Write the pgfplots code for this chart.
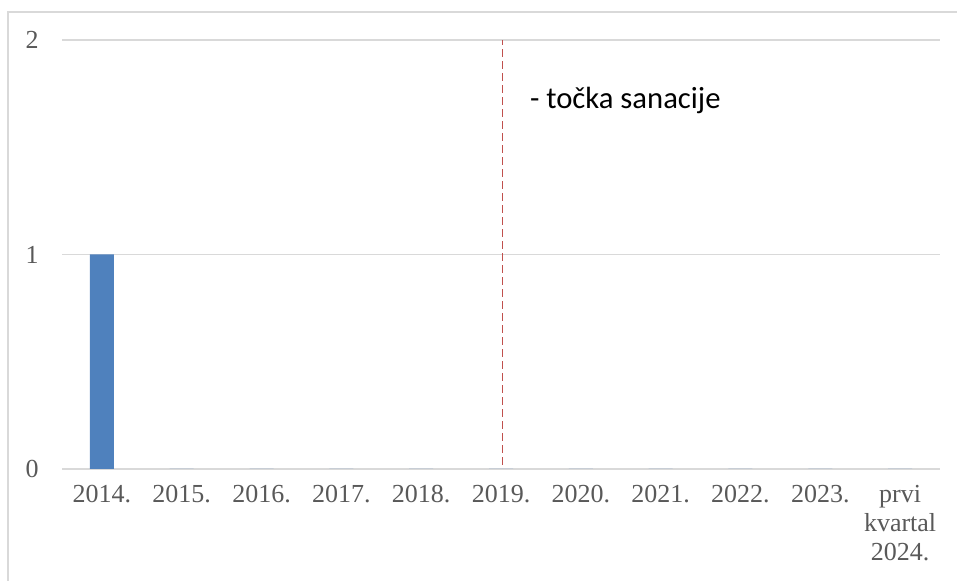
\documentclass[border=0pt]{standalone}
\usepackage{pgfplots}
\pgfplotsset{compat=1.18}
\usepackage{fontspec}
\setmainfont{Liberation Serif}
\newfontfamily\calibri{Carlito}
\definecolor{barblue}{HTML}{4F81BD}
\definecolor{dashred}{HTML}{C0504D}
\definecolor{gridgray}{HTML}{D9D9D9}
\definecolor{ticktext}{HTML}{595959}
\begin{document}
\begin{tikzpicture}
% 1px = 0.75pt
\path[use as bounding box] (0,0) rectangle (717.75pt,435.75pt);
\draw[gridgray, line width=1.2pt] (6pt,0) -- (6pt,426.75pt) -- (717.75pt,426.75pt);
\begin{axis}[
    at={(46.5pt,84pt)}, anchor=south west,
    scale only axis,
    width=658.5pt, height=321.75pt,
    xmin=-0.5, xmax=10.5,
    ymin=0, ymax=2,
    xtick=data,
    xticklabels={2014.,2015.,2016.,2017.,2018.,2019.,2020.,2021.,2022.,2023.,{prvi\\kvartal\\2024.}},
    ytick={0,1,2},
    axis line style={draw=none},
    major tick length=0pt,
    ymajorgrids,
    grid style={gridgray, line width=1.3pt},
    ticklabel style={font=\fontsize{19.5pt}{21.75pt}\selectfont, text=ticktext},
    xticklabel style={align=center, yshift=-9pt},
    yticklabel style={xshift=-14pt},
    /pgf/number format/assume math mode=true,
    clip=false,
]
    \addplot[ybar, bar width=18pt, fill=barblue, draw=none] coordinates {
        (0,1) (1,0) (2,0) (3,0) (4,0) (5,0) (6,0) (7,0) (8,0) (9,0) (10,0)
    };
    \addplot[dashred, line width=1.3pt, dash pattern=on 6pt off 3pt, mark=none] coordinates {
        (5.02,0.02) (5.02,2)
    };
    \node[anchor=west, inner sep=0pt, font=\calibri\fontsize{23pt}{27pt}\selectfont]
        at (axis cs:5.36,1.72) {- točka sanacije};
\end{axis}
\end{tikzpicture}
\end{document}
